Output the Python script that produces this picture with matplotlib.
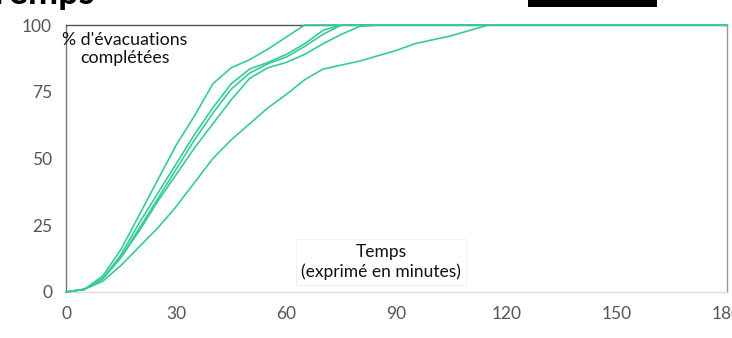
import matplotlib
matplotlib.use("Agg")
import matplotlib.pyplot as plt
from matplotlib.patches import Rectangle

plt.rcParams['font.family'] = ['Lato', 'DejaVu Sans']

# Data (minutes, % of evacuations completed)
minutes = [0, 5, 10, 15, 20, 25, 30, 35, 40, 45, 50, 55, 60, 65, 70, 75, 80, 85, 90, 95, 100, 105, 110, 115, 120, 150, 180]
series_a = [0, 1, 6, 16, 29, 42, 55, 66, 78, 84, 87, 91, 95.5, 100, 100, 100, 100, 100, 100, 100, 100, 100, 100, 100, 100, 100, 100]
series_b = [0, 1, 5, 14, 26, 37, 48, 59, 69, 78, 83.5, 86, 89, 93, 98, 100, 100, 100, 100, 100, 100, 100, 100, 100, 100, 100, 100]
series_c = [0, 1, 5, 13, 24, 35, 46, 57, 67, 76, 82, 85.5, 88, 92, 96.5, 100, 100, 100, 100, 100, 100, 100, 100, 100, 100, 100, 100]
series_d = [0, 1, 5, 13, 23, 34, 44, 54, 63, 72, 80, 84, 86, 89, 93, 96.5, 99.5, 100, 100, 100, 100, 100, 100, 100, 100, 100, 100]
series_e = [0, 1, 4, 10, 17, 24, 32, 41, 50, 57, 63, 69, 74, 79.5, 83.5, 85, 86.5, 88.5, 90.5, 93, 94.5, 96, 98, 100, 100, 100, 100]
all_series = [series_a, series_b, series_c, series_d, series_e]

xticks = [0, 30, 60, 90, 120, 150, 180]
yticks = [0, 25, 50, 75, 100]

line_color = "#36cc93"

fig = plt.figure(figsize=(7.32, 3.38), dpi=100)
ax = fig.add_axes([66/732, 46/338, 661/732, 267/338])

for s in all_series:
    ax.plot(minutes, s, color=line_color, lw=1.2, solid_joinstyle='round', clip_on=False, zorder=3)

ax.set_xlim(0, 180)
ax.set_ylim(0, 100)
ax.set_xticks(xticks)
ax.set_yticks(yticks)
ax.tick_params(length=0, labelsize=12.5, labelcolor="#555555", pad=10)
ax.tick_params(axis='y', pad=10)

ax.spines['left'].set_color("#777777")
ax.spines['right'].set_color("#999999")
ax.spines['top'].set_color("#555555")
ax.spines['bottom'].set_color("#dddddd")
for sp in ax.spines.values():
    sp.set_linewidth(1.0)

ax.text(0.089, 0.975, "% d'évacuations\ncomplétées", transform=ax.transAxes,
        ha='center', va='top', fontsize=12.8, color="#111111", linespacing=1.2, zorder=5)

ax.text(0.477, 0.112, "Temps\n(exprimé en minutes)", transform=ax.transAxes,
        ha='center', va='center', fontsize=12.5, color="#111111", linespacing=1.2,
        bbox=dict(boxstyle='square,pad=0.3', fc='white', ec='#f2f2f2', lw=0.8), zorder=5)

# cropped title fragment and black bar at the top
fig.text(95/732, 1 - 3.5/338, "Temps", ha='right', va='baseline', fontsize=26,
         fontweight='bold', color='black')
fig.patches.append(Rectangle((528/732, 1 - 7/338), 129/732, 8/338, transform=fig.transFigure,
                             facecolor='black', edgecolor='none'))

fig.savefig("out.png", dpi=100)
